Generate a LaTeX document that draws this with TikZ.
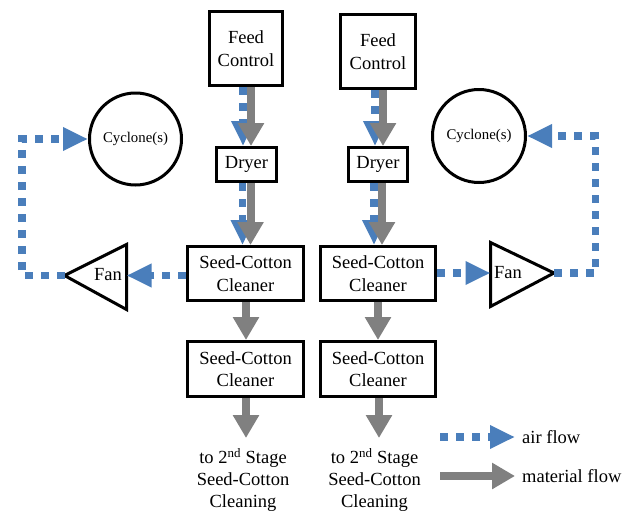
\documentclass[tikz,border=0pt]{standalone}
\usepackage{fontspec}
\setmainfont{Liberation Serif}
\newfontfamily\tnr{Liberation Serif}
\usetikzlibrary{arrows.meta}
\definecolor{airblue}{HTML}{4A7EBB}
\definecolor{matgray}{HTML}{808080}
\begin{document}
\begin{tikzpicture}[x=1pt,y=-1pt,
 box/.style={draw,line width=3pt,rectangle,inner sep=0pt,align=center,font=\tnr\fontsize{18.5}{22.5}\selectfont},
 cyc/.style={draw,line width=3pt,circle,inner sep=0pt,font=\tnr\fontsize{14.8}{17}\selectfont},
 fanshape/.style={draw,line width=3pt},
 air/.style={color=airblue,line width=7.5pt,dash pattern=on 8pt off 8pt,-{Triangle[length=25pt,width=22pt]}},
 mat/.style={color=matgray,line width=8pt,-{Triangle[length=23pt,width=25pt]}},
 lbl/.style={font=\tnr\fontsize{18.5}{22}\selectfont,inner sep=0pt,align=center}]
\useasboundingbox (0,0) rectangle (632,512);

% boxes
\node[box,minimum width=73pt,minimum height=74pt] (fc1) at (246,48.5) {Feed\\Control};
\node[box,minimum width=75pt,minimum height=74pt] (fc2) at (378,51.5) {Feed\\Control};
\node[box,minimum width=60pt,minimum height=34pt] (dr1) at (246.5,164.5) {Dryer};
\node[box,minimum width=59pt,minimum height=34pt] (dr2) at (378,164.5) {Dryer};
\node[box,minimum width=116pt,minimum height=54pt] (ca1) at (245.5,273.5) {Seed-Cotton\\Cleaner};
\node[box,minimum width=115pt,minimum height=54pt] (ca2) at (378,273.5) {Seed-Cotton\\Cleaner};
\node[box,minimum width=116pt,minimum height=55pt] (cb1) at (245.5,369) {Seed-Cotton\\Cleaner};
\node[box,minimum width=115pt,minimum height=55pt] (cb2) at (378,369) {Seed-Cotton\\Cleaner};

% cyclones
\node[cyc,minimum size=92pt] (cy1) at (135.5,139) {Cyclone(s)};
\node[cyc,minimum size=93pt] (cy2) at (479,136) {Cyclone(s)};

% fans
\draw[fanshape] (64.5,275.5) -- (126.5,244.5) -- (126.5,309.5) -- cycle;
\coordinate (f1in) at (126.5,275.5);
\coordinate (f1out) at (64.5,275.5);
\node[lbl] (f1t) at (108,275) {Fan};
\draw[fanshape] (490.5,242.5) -- (490.5,306.5) -- (554,273) -- cycle;
\coordinate (f2in) at (490.5,273);
\coordinate (f2out) at (554,273);
\node[lbl] (f2t) at (508,273) {Fan};

% corner coordinates of air loops
\coordinate (k1a) at (22,275.5);
\coordinate (k1b) at (22,139);
\coordinate (k2a) at (595.5,273);
\coordinate (k2b) at (595.5,136);

% vertical air arrows (behind material arrows)
\draw[air] ([xshift=-3pt]fc1.south) -- ([xshift=-3pt]fc1.south |- dr1.north);
\draw[air] ([xshift=-4pt]dr1.south) -- ([xshift=-4pt]dr1.south |- ca1.north);
\draw[air] ([xshift=-3pt]fc2.south) -- ([xshift=-3pt]fc2.south |- dr2.north);
\draw[air] ([xshift=-4pt]dr2.south) -- ([xshift=-4pt]dr2.south |- ca2.north);

% material arrows
\draw[mat] ([xshift=5pt]fc1.south) -- ([xshift=5pt]fc1.south |- dr1.north);
\draw[mat] ([xshift=4pt]dr1.south) -- ([xshift=4pt]dr1.south |- ca1.north);
\draw[mat] ([xshift=5pt]fc2.south) -- ([xshift=5pt]fc2.south |- dr2.north);
\draw[mat] ([xshift=4pt]dr2.south) -- ([xshift=4pt]dr2.south |- ca2.north);
\draw[mat] ([xshift=0.5pt]ca1.south) -- ([xshift=0.5pt]cb1.north);
\draw[mat] (ca2.south) -- (cb2.north);

% outputs
\node[lbl] (o1) at (243,480) {to 2\textsuperscript{nd} Stage\\Seed-Cotton\\Cleaning};
\node[lbl] (o2) at (374.5,480) {to 2\textsuperscript{nd} Stage\\Seed-Cotton\\Cleaning};
\coordinate (o1top) at (246,438);
\coordinate (o2top) at (379,438);
\draw[mat] ([xshift=0.5pt]cb1.south) -- (o1top);
\draw[mat] ([xshift=1pt]cb2.south) -- (o2top);

% air loops
\draw[air] (ca1.west |- f1in) -- (f1in);
\draw[air] (f1out) -- (k1a) -- (k1b) -- (cy1.west);
\draw[air] (ca2.east |- f2in) -- (f2in);
\draw[air] (f2out) -- (k2a) -- (k2b) -- (cy2.east);

% legend
\coordinate (la1) at (440,437);
\coordinate (la2) at (515,437);
\coordinate (lm1) at (440,476);
\coordinate (lm2) at (515,476);
\draw[air] (la1) -- (la2);
\draw[mat] (lm1) -- (lm2);
\node[lbl,anchor=west] (lat) at (522,437) {air flow};
\node[lbl,anchor=west] (lmt) at (522,476) {material flow};
\end{tikzpicture}
\end{document}
